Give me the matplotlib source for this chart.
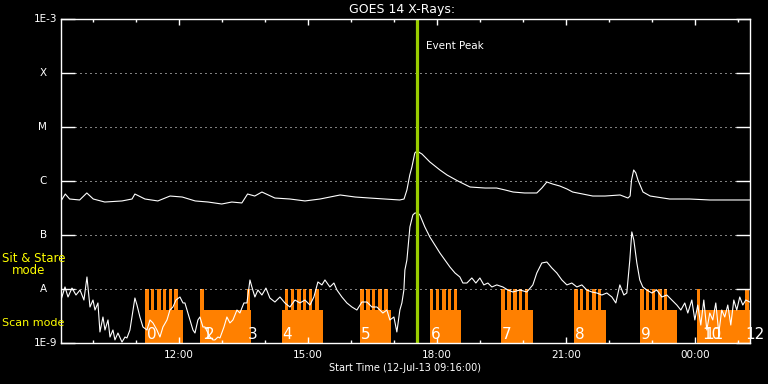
# GOES 14 X-ray flux, 12-Jul-13, with scan / sit & stare mode blocks

import numpy as np
import matplotlib
matplotlib.use("Agg")
import matplotlib.pyplot as plt

# time axis: minutes after the start time 09:16
start_label = "Start Time (12-Jul-13 09:16:00)"
t_end = 960
hour_ticks = [164, 344, 524, 704, 884]
hour_labels = ['12:00', '15:00', '18:00', '21:00', '00:00']
minor_ticks = [44, 104, 164, 224, 284, 344, 404, 464, 524, 584, 644, 704,
               764, 824, 884, 944]

# long channel (1-8 A), W/m^2
long_t = [0, 6, 12, 26, 36, 45, 61, 85, 99, 103, 117, 135, 152, 169, 187,
          205, 224, 238, 252, 260, 270, 280, 298, 319, 340, 361, 389, 410,
          430, 451, 472, 478, 482, 486, 489, 493, 496, 503, 514, 528, 538,
          553, 570, 591, 607, 619, 630, 646, 663, 670, 677, 685, 695, 705,
          713, 727, 741, 758, 779, 790, 793, 795, 798, 801, 804, 811, 821,
          830, 848, 876, 904, 932, 960]
long_flux = [4.27e-7, 5.74e-7, 4.64e-7, 4.45e-7, 6.0e-7, 4.64e-7, 4.08e-7,
             4.27e-7, 4.64e-7, 5.74e-7, 4.64e-7, 4.27e-7, 5.27e-7, 5.05e-7,
             4.27e-7, 4.08e-7, 3.75e-7, 4.08e-7, 3.92e-7, 5.74e-7, 5.27e-7,
             6.25e-7, 4.84e-7, 4.64e-7, 4.27e-7, 4.64e-7, 5.51e-7, 5.05e-7,
             4.84e-7, 4.64e-7, 4.45e-7, 4.64e-7, 6.81e-7, 1.29e-6, 1.82e-6,
             3.30e-6, 3.59e-6, 3.16e-6, 2.25e-6, 1.60e-6, 1.29e-6, 1.0e-6,
             7.74e-7, 7.41e-7, 7.41e-7, 6.81e-7, 6.25e-7, 6.0e-7, 6.0e-7,
             7.41e-7, 9.58e-7, 8.8e-7, 8.08e-7, 7.11e-7, 6.25e-7, 5.74e-7,
             5.27e-7, 5.27e-7, 5.51e-7, 4.84e-7, 5.27e-7, 1.04e-6, 1.60e-6,
             1.41e-6, 1.04e-6, 6.25e-7, 5.27e-7, 5.05e-7, 4.64e-7, 4.64e-7,
             4.45e-7, 4.45e-7, 4.45e-7]

# short channel (0.5-4 A), W/m^2
short_t = [0, 5.6, 9.8, 15.3, 20.9, 26.5, 32, 36.2, 40.4, 44.6, 47.4, 51.5,
           54.3, 58.5, 61.3, 65.5, 68.3, 72.4, 75.2, 79.4, 85, 89.2, 91.9,
           96.1, 98.9, 103, 105.9, 110, 114.2, 119.8, 124, 128.2, 133.7,
           137.9, 142.1, 147.7, 151.8, 156, 160.2, 165.8, 170, 172.7, 176.9,
           179.7, 183.9, 186.7, 190.8, 193.6, 197.8, 200.6, 204.8, 207.6,
           211.7, 214.5, 218.7, 221.5, 227.1, 231.2, 235.4, 239.6, 245.2,
           249.3, 254.9, 259.1, 263.3, 266, 270.2, 274.4, 280, 285.6, 291.1,
           298.1, 305.1, 312, 319, 326, 332.9, 339.9, 346.9, 352.4, 358,
           363.6, 367.8, 374.7, 380.3, 384.5, 391.4, 398.4, 405.4, 412.3,
           419.3, 426.3, 433.2, 440.2, 448.5, 454.1, 458.3, 463.9, 468,
           472.2, 475, 477.8, 479.2, 482, 486.2, 490.3, 493.1, 497.3, 500.1,
           507, 514, 521, 528, 535, 542, 549, 555.8, 560, 565.6, 572.5,
           578.1, 583.7, 589.2, 594.8, 600.4, 607.3, 615.7, 622.7, 629.6,
           639.4, 649.1, 657.5, 663, 670, 677, 684, 690.9, 697.9, 704.9,
           711.8, 718.8, 725.8, 732.7, 739.7, 746.7, 753.6, 760.6, 767.6,
           773.1, 778.7, 784.3, 788.4, 792.6, 795.4, 798.2, 802.4, 806.5,
           810.7, 816.3, 823.3, 830.2, 837.2, 844.2, 851.1, 858.1, 863.7,
           869.2, 873.4, 879, 883.2, 887.3, 891.5, 895.7, 899.9, 904, 908.2,
           912.4, 916.6, 920.7, 924.9, 929.1, 933.3, 937.5, 941.6, 945.8,
           950, 954.2, 959.8]
short_flux = [6.25e-9, 1.09e-8, 7.11e-9, 1.04e-8, 7.74e-9, 9.58e-9, 6.25e-9,
              1.67e-8, 4.64e-9, 6.25e-9, 4.08e-9, 5.51e-9, 1.60e-9, 3.03e-9,
              1.74e-9, 2.67e-9, 1.29e-9, 1.74e-9, 1.14e-9, 1.53e-9, 1.04e-9,
              1.29e-9, 1.24e-9, 1.74e-9, 3.03e-9, 6.81e-9, 5.05e-9, 3.03e-9,
              1.98e-9, 1.74e-9, 2.67e-9, 2.35e-9, 1.74e-9, 1.29e-9, 1.98e-9,
              2.67e-9, 4.08e-9, 4.64e-9, 6.25e-9, 7.11e-9, 5.51e-9, 5.51e-9,
              3.59e-9, 2.67e-9, 1.74e-9, 1.53e-9, 2.67e-9, 3.03e-9, 1.98e-9,
              1.98e-9, 1.53e-9, 1.29e-9, 1.14e-9, 1.14e-9, 1.29e-9, 1.24e-9,
              1.98e-9, 3.03e-9, 2.35e-9, 2.67e-9, 4.08e-9, 3.59e-9, 5.51e-9,
              5.51e-9, 1.47e-8, 1.09e-8, 7.11e-9, 9.58e-9, 7.74e-9, 1.04e-8,
              6.81e-9, 5.74e-9, 7.11e-9, 5.51e-9, 4.64e-9, 6.25e-9, 5.51e-9,
              6.25e-9, 5.05e-9, 7.11e-9, 1.35e-8, 1.19e-8, 1.47e-8, 1.09e-8,
              1.29e-8, 9.58e-9, 7.11e-9, 5.51e-9, 4.64e-9, 4.08e-9, 5.74e-9,
              5.74e-9, 4.64e-9, 4.64e-9, 3.59e-9, 4.08e-9, 2.67e-9, 3.03e-9,
              1.60e-9, 4.08e-9, 5.51e-9, 9.58e-9, 2.25e-8, 3.44e-8, 1.41e-7,
              2.35e-7, 2.55e-7, 2.55e-7, 2.35e-7, 1.41e-7, 9.18e-8, 6.53e-8,
              4.64e-8, 3.44e-8, 2.55e-8, 1.98e-8, 1.67e-8, 1.29e-8, 1.29e-8,
              1.60e-8, 1.29e-8, 1.60e-8, 1.19e-8, 1.29e-8, 1.09e-8, 1.19e-8,
              1.09e-8, 9.58e-9, 8.8e-9, 9.58e-9, 8.8e-9, 1.19e-8, 1.98e-8,
              3.03e-8, 3.16e-8, 2.45e-8, 1.98e-8, 1.47e-8, 1.19e-8, 1.29e-8,
              1.09e-8, 1.19e-8, 9.58e-9, 8.8e-9, 8.43e-9, 7.74e-9, 8.43e-9,
              7.11e-9, 5.51e-9, 1.19e-8, 7.74e-9, 8.43e-9, 3.44e-8, 1.14e-7,
              8.08e-8, 3.03e-8, 1.47e-8, 1.09e-8, 9.58e-9, 8.43e-9, 9.58e-9,
              7.11e-9, 7.74e-9, 6.25e-9, 5.05e-9, 4.08e-9, 5.51e-9, 3.59e-9,
              6.25e-9, 2.67e-9, 5.05e-9, 2.15e-9, 6.25e-9, 1.74e-9, 3.59e-9,
              2.67e-9, 5.51e-9, 1.53e-9, 4.08e-9, 3.03e-9, 5.05e-9, 2.15e-9,
              6.25e-9, 4.08e-9, 7.11e-9, 5.05e-9, 6.25e-9, 5.74e-9]

# instrument modes: scan blocks (start, end) and sit & stare starts
scan_start = [117, 194, 308, 417, 514, 613, 715, 807, 886]
scan_end = [170, 265, 365, 460, 557, 658, 759, 858, 960]
stare_start = [117, 125, 134, 142, 150, 158,
               194, 259,
               312, 320, 329, 337, 345, 354,
               417, 425, 433, 442, 450,
               514, 522, 531, 539, 547,
               613, 622, 630, 638, 646,
               715, 723, 731, 740, 748,
               807, 815, 823, 832, 840,
               886, 953]
stare_len = 5
scan_level = 4.1e-9
stare_level = 1e-8
floor = 1e-9

orbit_t = [120, 197, 201, 260, 309, 418, 516, 614, 716, 808, 893, 896, 953]
orbit_lab = ['0', '1', '2', '3', '4', '5', '6', '7', '8', '9', '10', '11', '12']

peak_t = 496

dec_vals = [1e-9, 1e-8, 1e-7, 1e-6, 1e-5, 1e-4, 1e-3]
dec_labels = ['1E-9', 'A', 'B', 'C', 'M', 'X', '1E-3']

orange = '#ff8000'
green = '#9acd00'
yellow = '#ffff00'


def main():
    fig = plt.figure(figsize=(7.68, 3.84), dpi=100, facecolor='black')
    ax = fig.add_axes([0.0794, 0.1068, 0.8971, 0.8437], facecolor='black')
    ax.set_yscale('log')
    ax.set_xlim(0, t_end)
    ax.set_ylim(1e-9, 1e-3)

    # mode blocks
    ax.bar(scan_start, np.array([scan_level] * len(scan_start)) - floor,
           width=np.array(scan_end) - np.array(scan_start), bottom=floor,
           align='edge', color=orange, linewidth=0, zorder=1)
    ax.bar(stare_start, [stare_level - floor] * len(stare_start),
           width=stare_len, bottom=floor, align='edge', color=orange,
           linewidth=0, zorder=1)

    # dotted class lines
    for v in dec_vals[1:-1]:
        ax.axhline(v, xmin=14 / 689, xmax=1 - 12 / 689, color='white',
                   lw=0.72, dashes=(1, 4), zorder=2)

    ax.plot(long_t, long_flux, color='white', lw=0.8, zorder=3)
    ax.plot(short_t, short_flux, color='white', lw=0.8, zorder=3)

    ax.axvline(peak_t, color=green, lw=2.3, zorder=4)
    ax.text(peak_t + 12, 3.2e-4, 'Event Peak', color='white', fontsize=7.5,
            va='center', ha='left')

    for t, lab in zip(orbit_t, orbit_lab):
        ax.text(t, 1.05e-9, lab, color='white', fontsize=11, ha='left',
                va='bottom', zorder=5, clip_on=False)

    # axes look
    for s in ax.spines.values():
        s.set_color('white')
        s.set_linewidth(1)
        s.set_zorder(6)
    ax.set_yticks(dec_vals)
    ax.yaxis.set_minor_locator(matplotlib.ticker.NullLocator())
    ax.set_yticklabels([])
    ax.tick_params(axis='y', which='major', direction='in', length=10,
                   width=1, color='white', left=True, right=True)
    ax.set_xticks(hour_ticks, labels=hour_labels)
    ax.set_xticks(minor_ticks, minor=True)
    ax.tick_params(axis='x', which='major', direction='in', length=4.3,
                   width=1, color='white', top=True, bottom=True,
                   labelcolor='white', labelsize=7.5, pad=5)
    ax.tick_params(axis='x', which='minor', direction='in', length=2.5,
                   width=1, color='white', top=True, bottom=True)

    for v, lab in zip(dec_vals, dec_labels):
        xpos = -0.006 if lab.startswith('1E') else -0.02
        ax.text(xpos, v, lab, color='white', fontsize=7.5, ha='right',
                va='center', transform=ax.get_yaxis_transform())

    fig.text(402 / 768, 1 - 10 / 384, 'GOES 14 X-Rays:', color='white',
             fontsize=9, ha='center', va='center')
    fig.text(405 / 768, 1 - 368 / 384, start_label, color='white',
             fontsize=7, ha='center', va='center')
    fig.text(2 / 768, 1 - 259 / 384, 'Sit & Stare', color=yellow,
             fontsize=8.5, ha='left', va='center')
    fig.text(12 / 768, 1 - 271 / 384, 'mode', color=yellow,
             fontsize=8.5, ha='left', va='center')
    fig.text(2 / 768, 1 - 323 / 384, 'Scan mode', color=yellow,
             fontsize=8, ha='left', va='center')

    fig.savefig('out.png', dpi=100, facecolor='black')


main()
